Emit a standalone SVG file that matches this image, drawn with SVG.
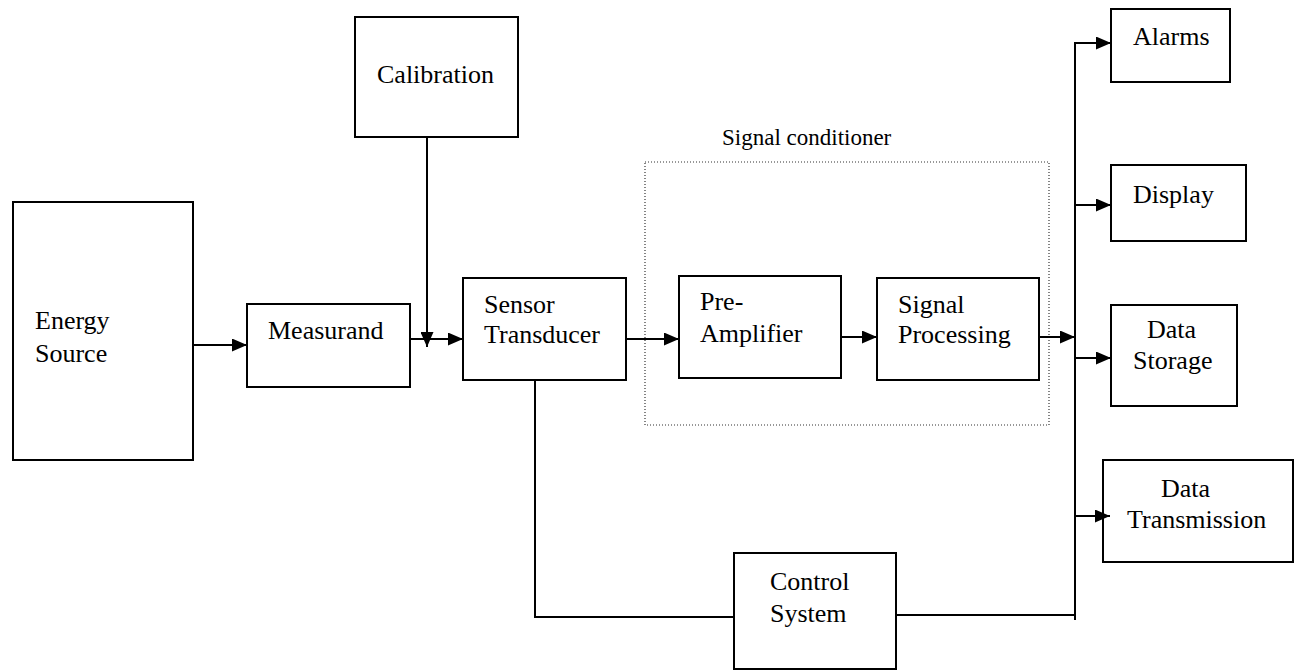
<svg xmlns="http://www.w3.org/2000/svg" width="1296" height="671" viewBox="0 0 1296 671">
  <style>
    .box { fill: #fff; stroke: #000; stroke-width: 2; }
    .lbl { font-family: "Liberation Serif", "Times New Roman", serif; font-size: 26px; fill: #000; }
    .small { font-size: 23px; }
    .wire { fill: none; stroke: #000; stroke-width: 2; }
    .arrow { marker-end: url(#head); }
    .group { fill: none; stroke: #333; stroke-width: 1.2; stroke-dasharray: 1 2; }
  </style>
  <defs>
    <marker id="head" viewBox="0 0 15 13" refX="15" refY="6.5" markerWidth="15" markerHeight="13" markerUnits="userSpaceOnUse" orient="auto">
      <path d="M0,0 L15,6.5 L0,13 z" fill="#000"/>
    </marker>
  </defs>
  <rect width="1296" height="671" fill="#fff"/>

  <!-- signal conditioner enclosure -->
  <g id="signal-conditioner">
    <rect class="group" x="645" y="162" width="404" height="263"/>
    <text class="lbl small" x="722" y="145">Signal conditioner</text>
  </g>

  <g id="energy-source">
    <rect class="box" x="13" y="202" width="180" height="258"/>
    <text class="lbl" x="35" y="329">Energy</text>
    <text class="lbl" x="35" y="362">Source</text>
  </g>

  <g id="measurand">
    <rect class="box" x="247" y="304" width="163" height="83"/>
    <text class="lbl" x="268" y="339">Measurand</text>
  </g>

  <g id="calibration">
    <rect class="box" x="355" y="17" width="163" height="120"/>
    <text class="lbl" x="377" y="83">Calibration</text>
  </g>

  <g id="sensor-transducer">
    <rect class="box" x="463" y="278" width="163" height="102"/>
    <text class="lbl" x="484" y="313">Sensor</text>
    <text class="lbl" x="484" y="343">Transducer</text>
  </g>

  <g id="pre-amplifier">
    <rect class="box" x="679" y="276" width="162" height="102"/>
    <text class="lbl" x="700" y="310">Pre-</text>
    <text class="lbl" x="700" y="342">Amplifier</text>
  </g>

  <g id="signal-processing">
    <rect class="box" x="877" y="278" width="162" height="102"/>
    <text class="lbl" x="898" y="313">Signal</text>
    <text class="lbl" x="898" y="343">Processing</text>
  </g>

  <g id="control-system">
    <rect class="box" x="734" y="553" width="162" height="116"/>
    <text class="lbl" x="770" y="590">Control</text>
    <text class="lbl" x="770" y="622">System</text>
  </g>

  <g id="alarms">
    <rect class="box" x="1111" y="9" width="119" height="73"/>
    <text class="lbl" x="1133" y="45">Alarms</text>
  </g>

  <g id="display">
    <rect class="box" x="1111" y="165" width="135" height="76"/>
    <text class="lbl" x="1133" y="203">Display</text>
  </g>

  <g id="data-storage">
    <rect class="box" x="1111" y="305" width="126" height="101"/>
    <text class="lbl" x="1147" y="338">Data</text>
    <text class="lbl" x="1133" y="369">Storage</text>
  </g>

  <g id="data-transmission">
    <rect class="box" x="1103" y="460" width="190" height="102"/>
    <text class="lbl" x="1161" y="497">Data</text>
    <text class="lbl" x="1127" y="528">Transmission</text>
  </g>

  <g id="connectors">
    <line class="wire arrow" x1="193" y1="345" x2="247" y2="345"/>
    <line class="wire arrow" x1="410" y1="339" x2="463" y2="339"/>
    <line class="wire arrow" x1="427" y1="137" x2="427" y2="347"/>
    <line class="wire arrow" x1="626" y1="339" x2="679" y2="339"/>
    <line class="wire arrow" x1="841" y1="337" x2="877" y2="337"/>
    <line class="wire arrow" x1="1039" y1="337" x2="1075" y2="337"/>
    <!-- output bus -->
    <line class="wire" x1="1075" y1="42" x2="1075" y2="620"/>
    <line class="wire arrow" x1="1075" y1="43" x2="1111" y2="43"/>
    <line class="wire arrow" x1="1075" y1="205" x2="1111" y2="205"/>
    <line class="wire arrow" x1="1075" y1="358" x2="1111" y2="358"/>
    <line class="wire arrow" x1="1075" y1="516" x2="1110" y2="516"/>
    <!-- feedback path through the control system -->
    <polyline class="wire" points="535,380 535,617 734,617"/>
    <line class="wire" x1="896" y1="615" x2="1075" y2="615"/>
  </g>
</svg>
